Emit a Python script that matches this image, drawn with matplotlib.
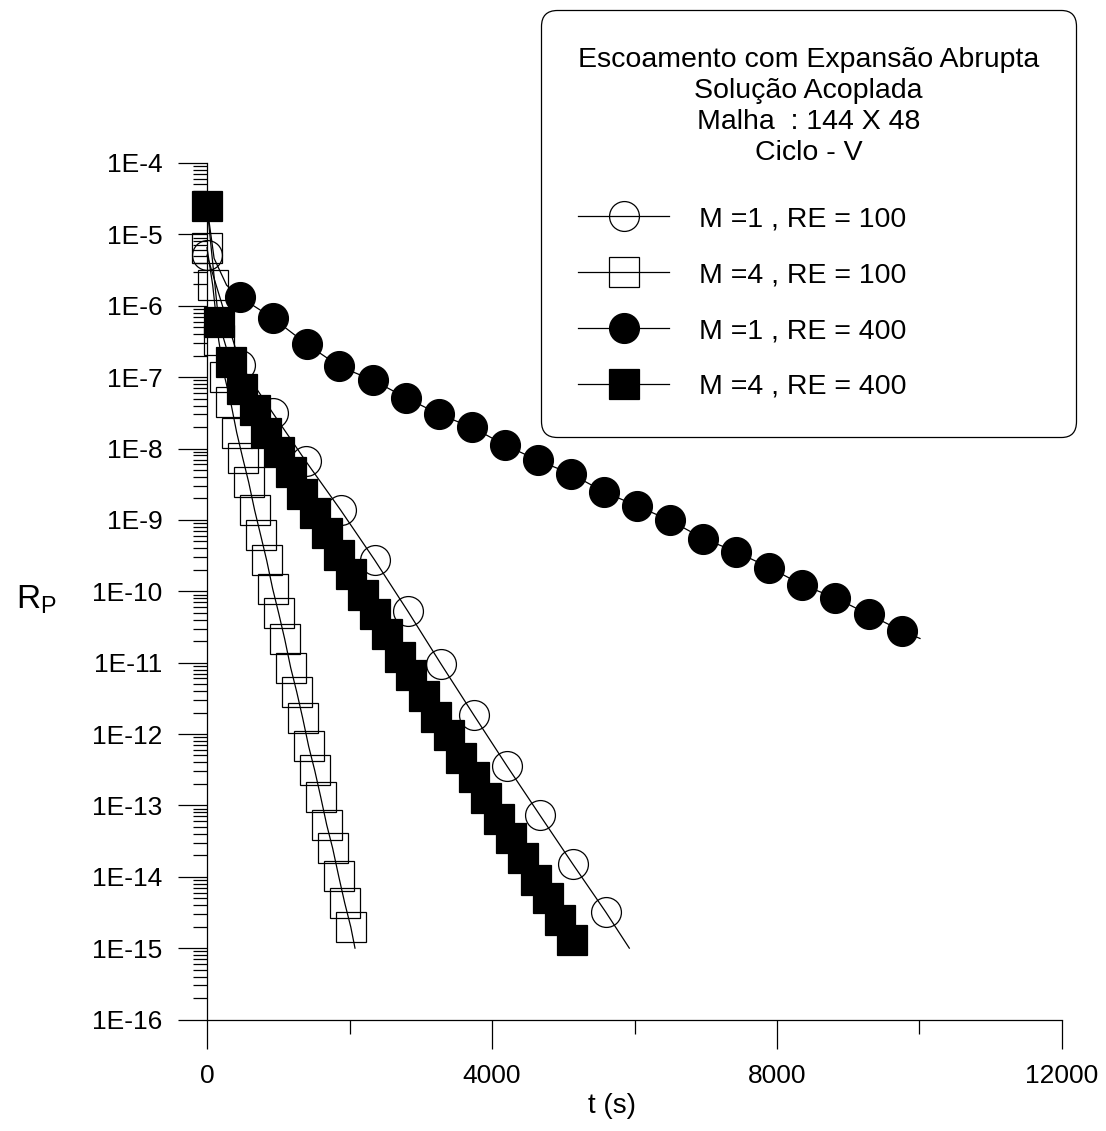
import numpy as np
import matplotlib
matplotlib.use("Agg")
import matplotlib.pyplot as plt
from matplotlib.lines import Line2D
from matplotlib.ticker import FixedLocator, FuncFormatter, LogLocator, MultipleLocator, NullFormatter

plt.rcParams["font.family"] = ["Liberation Sans", "DejaVu Sans"]
plt.rcParams["mathtext.fontset"] = "custom"
plt.rcParams["mathtext.rm"] = "Liberation Sans"

# M=1, RE=100 (open circles): markers and the full residual curve end
t_m1_100 = [0, 470, 924, 1389, 1876, 2354, 2821, 3281, 3745, 4211, 4674, 5133, 5596]
r_m1_100 = [5.1e-6, 1.49e-7, 3.14e-8, 6.58e-9, 1.37e-9, 2.73e-10, 5.21e-11, 9.68e-12,
            1.84e-12, 3.55e-13, 7.24e-14, 1.51e-14, 3.21e-15]
tail_t_m1_100, tail_r_m1_100 = [5927], [1.0e-15]

# M=4, RE=100 (open squares)
t_m4_100 = [0, 80, 164, 248, 333, 417, 501, 585, 669, 754, 838, 922, 1006, 1091, 1175,
            1259, 1343, 1427, 1512, 1596, 1680, 1764, 1848, 1933, 2018]
r_m4_100 = [6.5e-6, 1.94e-6, 3.29e-7, 1.01e-7, 4.44e-8, 1.67e-8, 7.38e-9, 3.37e-9, 1.36e-9,
            6.05e-10, 2.70e-10, 1.08e-10, 4.93e-11, 2.13e-11, 8.45e-12, 3.90e-12, 1.67e-12,
            6.70e-13, 3.09e-13, 1.31e-13, 5.34e-14, 2.50e-14, 1.02e-14, 4.29e-15, 1.98e-15]
tail_t_m4_100, tail_r_m4_100 = [2077], [1.0e-15]

# M=1, RE=400 (filled circles)
t_m1_400 = [466, 926, 1401, 1857, 2327, 2789, 3256, 3715, 4182, 4641, 5109, 5572, 6035,
            6498, 6966, 7429, 7892, 8355, 8818, 9287, 9750]
r_m1_400 = [1.32e-6, 6.68e-7, 2.89e-7, 1.42e-7, 9.06e-8, 5.18e-8, 3.02e-8, 1.99e-8, 1.12e-8,
            6.85e-9, 4.41e-9, 2.47e-9, 1.57e-9, 9.82e-10, 5.48e-10, 3.56e-10, 2.15e-10,
            1.23e-10, 8.09e-11, 4.73e-11, 2.79e-11]
head_t_m1_400, head_r_m1_400 = [0, 100, 275], [2.46e-5, 4.6e-6, 1.94e-6]
tail_t_m1_400, tail_r_m1_400 = [10007], [2.18e-11]

# M=4, RE=400 (filled squares)
t_m4_400 = [0, 164, 330, 498, 667, 831, 1004, 1172, 1340, 1509, 1680, 1850, 2018, 2187,
            2358, 2529, 2702, 2870, 3043, 3217, 3394, 3569, 3745, 3919, 4095, 4269, 4438,
            4611, 4783, 4952, 5126]
r_m4_400 = [2.46e-5, 5.93e-7, 1.63e-7, 6.81e-8, 3.46e-8, 1.65e-8, 8.93e-9, 4.70e-9, 2.31e-9,
            1.26e-9, 6.45e-10, 3.21e-10, 1.76e-10, 8.81e-11, 4.73e-11, 2.48e-11, 1.20e-11,
            6.68e-12, 3.37e-12, 1.73e-12, 9.59e-13, 4.62e-13, 2.48e-13, 1.28e-13, 6.43e-14,
            3.52e-14, 1.82e-14, 9.06e-15, 4.97e-15, 2.44e-15, 1.30e-15]
tail_t_m4_400, tail_r_m4_400 = [5180], [1.0e-15]

labels = ["M =1 , RE = 100", "M =4 , RE = 100", "M =1 , RE = 400", "M =4 , RE = 400"]
legend_title = "Escoamento com Expansão Abrupta\nSolução Acoplada\nMalha  : 144 X 48\nCiclo - V"

W, H = 1106, 1131
fig = plt.figure(figsize=(W / 100, H / 100), dpi=100)
ax = fig.add_axes([207 / W, 1 - 1019.5 / H, 855 / W, 856.5 / H])

series = [
    ([], [], t_m1_100, r_m1_100, tail_t_m1_100, tail_r_m1_100, "o", "none"),
    ([], [], t_m4_100, r_m4_100, tail_t_m4_100, tail_r_m4_100, "s", "none"),
    (head_t_m1_400, head_r_m1_400, t_m1_400, r_m1_400, tail_t_m1_400, tail_r_m1_400, "o", "black"),
    ([], [], t_m4_400, r_m4_400, tail_t_m4_400, tail_r_m4_400, "s", "black"),
]
handles = []
for i, (ht, hr, t, r, tt, tr, mk, fc) in enumerate(series):
    ax.plot(ht + t + tt, hr + r + tr, color="black", lw=0.9, zorder=2 + 2 * i, clip_on=False)
    ax.plot(t, r, ls="none", marker=mk, ms=21.5, mfc=fc, mec="black", mew=0.9,
            zorder=3 + 2 * i, clip_on=False)
    handles.append(Line2D([], [], color="black", lw=0.9, marker=mk, ms=21.5,
                          mfc=fc, mec="black", mew=0.9))

ax.set_yscale("log")
ax.set_xlim(0, 12000)
ax.set_ylim(1e-16, 1e-4)
ax.xaxis.set_major_locator(FixedLocator([0, 4000, 8000, 12000]))
ax.xaxis.set_minor_locator(MultipleLocator(2000))
ax.yaxis.set_major_locator(LogLocator(base=10, numticks=30))
ax.yaxis.set_major_formatter(FuncFormatter(lambda v, p: "1E%d" % int(round(np.log10(v)))))
ax.yaxis.set_minor_locator(LogLocator(base=10, subs=np.arange(2, 10), numticks=200))
ax.yaxis.set_minor_formatter(NullFormatter())

for s in ["top", "right"]:
    ax.spines[s].set_visible(False)
for s in ["left", "bottom"]:
    ax.spines[s].set_linewidth(0.9)
ax.tick_params(which="major", direction="out", length=21, width=0.9, pad=11, labelsize=19)
ax.tick_params(which="minor", direction="out", length=10, width=0.9)

ax.set_xlabel("t (s)", fontsize=20)
ax.xaxis.set_label_coords((612 - 207) / 855, -(1093 - 1019.5) / 856.5)
ax.set_ylabel(r"$\mathrm{R_P}$", fontsize=24, rotation=0, ha="center", va="center")
ax.yaxis.set_label_coords((36 - 207) / 855, (1019.5 - 600) / 856.5)

leg = ax.legend(handles, labels, title=legend_title, fontsize=20.5, title_fontsize=20.5,
                loc="upper left", bbox_to_anchor=(541 / W, 1 - 10 / H),
                bbox_transform=fig.transFigure, borderaxespad=0, borderpad=1.3,
                handlelength=3.2, handletextpad=1.05, labelspacing=1.05,
                alignment="left", frameon=True, fancybox=True, framealpha=1)
leg.get_title().set_multialignment("center")
leg.get_title().set_linespacing(1.25)
leg._legend_box.sep = 29
frame = leg.get_frame()
frame.set_edgecolor("black")
frame.set_linewidth(0.9)
frame.set_boxstyle("round", pad=0, rounding_size=0.55)

fig.savefig("out.png", dpi=100)
